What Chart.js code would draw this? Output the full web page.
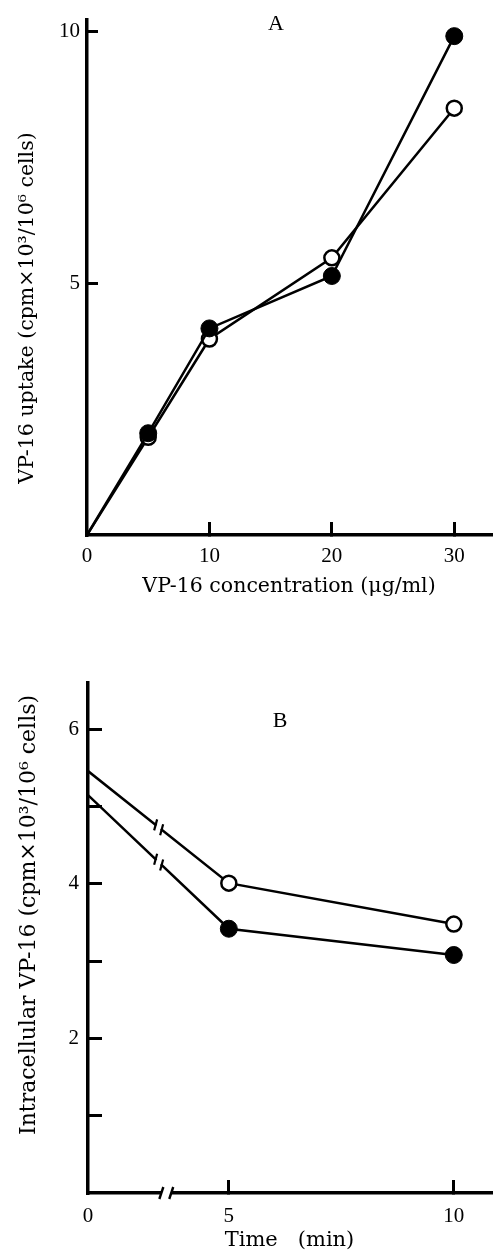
<!DOCTYPE html>
<html><head><meta charset="utf-8">
<script src="https://cdn.jsdelivr.net/npm/chart.js@4.4.1/dist/chart.umd.min.js"></script>
<style>
html,body{margin:0;padding:0;background:#fff;overflow:hidden;width:501px;height:1252px;}
#wa{position:absolute;left:0;top:0;width:501px;height:620px;}
#wb{position:absolute;left:0;top:620px;width:501px;height:640px;}
</style></head><body>
<div id="wa"><canvas id="ca"></canvas></div>
<div id="wb"><canvas id="cb"></canvas></div>
<script>
// ---------- Panel A data ----------
const concA        = [0, 5, 10, 20, 30];          // VP-16 concentration (ug/ml)
const uptakeFilled = [0, 2.02, 4.10, 5.14, 9.90]; // filled circles
const uptakeOpen   = [0, 1.94, 3.89, 5.50, 8.47]; // open circles
const xTicksA      = [0, 10, 20, 30];
const yTicksA      = [0, 5, 10];
// ---------- Panel B data ----------
const timeB        = [0, 5, 10];                  // Time (min)
const intraOpen    = [5.46, 4.01, 3.48];
const intraFilled  = [5.15, 3.42, 3.08];
const xTicksB      = [0, 5, 10];
const yTicksB      = [1, 2, 3, 4, 5, 6];
const yLabelsB     = [2, 4, 6];

// broken time axis: part of the 0..5 interval is cut out
const BREAK_FROM = 1.63, BREAK_TO = 3.72, BREAK_GAP = 0.22;
function toAxis(t){ return t <= BREAK_FROM ? t : t - (BREAK_TO - BREAK_FROM) + BREAK_GAP; }

const serif = "'Liberation Serif','Times New Roman',serif";
const titleSerif = "'DejaVu Serif',serif";
const BLACK = '#000';

const textPlugin = {
  id: 'panelText',
  afterDraw(chart, args, opts){
    const ctx = chart.ctx;
    (opts.items || []).forEach(it => {
      ctx.save();
      ctx.fillStyle = BLACK;
      ctx.font = it.font;
      ctx.textAlign = 'center';
      ctx.textBaseline = 'middle';
      ctx.translate(it.x, it.y);
      if (it.rot) ctx.rotate(it.rot);
      ctx.fillText(it.text, 0, 0);
      ctx.restore();
    });
  }
};

const breakPlugin = {
  id: 'axisBreak',
  afterDraw(chart, args, opts){
    if (!opts.enabled) return;
    const ctx = chart.ctx;
    const xs = chart.scales.x, ys = chart.scales.y;
    const ax1 = xs.getPixelForValue(BREAK_FROM), ax2 = xs.getPixelForValue(BREAK_FROM + BREAK_GAP);
    const yb = ys.getPixelForValue(0);
    ctx.save();
    // gap in the x axis
    ctx.fillStyle = '#fff';
    ctx.fillRect(ax1, yb - 3, ax2 - ax1, 6);
    ctx.strokeStyle = BLACK; ctx.lineWidth = 2.4;
    [ax1, ax2].forEach(x => {
      ctx.beginPath(); ctx.moveTo(x - 2, yb + 6); ctx.lineTo(x + 2, yb - 6); ctx.stroke();
    });
    // gaps in the data lines
    chart.data.datasets.forEach((ds, i) => {
      const meta = chart.getDatasetMeta(i);
      const p0 = meta.data[0], p1 = meta.data[1];
      const xc = xs.getPixelForValue(BREAK_FROM - 0.06);
      const slope = (p1.y - p0.y) / (p1.x - p0.x);
      const yAt = x => p0.y + slope * (x - p0.x);
      const g1 = xc - 3, g2 = xc + 3;
      ctx.strokeStyle = '#fff'; ctx.lineWidth = 5;
      ctx.beginPath(); ctx.moveTo(g1 + 0.8, yAt(g1 + 0.8)); ctx.lineTo(g2 - 0.8, yAt(g2 - 0.8)); ctx.stroke();
      ctx.strokeStyle = BLACK; ctx.lineWidth = 2.2;
      [g1, g2].forEach(x => {
        const y = yAt(x);
        ctx.beginPath(); ctx.moveTo(x - 1.5, y + 5.5); ctx.lineTo(x + 1.5, y - 5.5); ctx.stroke();
      });
    });
    ctx.restore();
  }
};
Chart.register(textPlugin, breakPlugin);

function lineDs(xs, ys, filled, first){
  return {
    data: xs.map((x, i) => ({x: x, y: ys[i]})),
    showLine: true,
    borderColor: BLACK, borderWidth: 2.5, tension: 0, fill: false,
    pointRadius: xs.map((x, i) => (i === 0 && first) ? 0 : (filled ? 8.5 : 7.5)),
    pointBackgroundColor: filled ? BLACK : '#fff',
    pointBorderColor: BLACK,
    pointBorderWidth: filled ? 1 : 2.5
  };
}
const tickCol = ctx => (ctx.tick && ctx.tick.value === 0) ? 'rgba(0,0,0,0)' : BLACK;
const noPad = s => { s.paddingTop = 0; s.paddingBottom = 0; s.paddingLeft = 0; s.paddingRight = 0; };

// ---------------- Chart A ----------------
new Chart(document.getElementById('ca'), {
  type: 'scatter',
  data: { datasets: [
    lineDs(concA, uptakeFilled, true, true),
    lineDs(concA, uptakeOpen, false, true)
  ]},
  options: {
    responsive: true, maintainAspectRatio: false, animation: false, events: [],
    devicePixelRatio: 1,
    layout: { padding: { top: 20, right: 4, left: 0, bottom: 0 } },
    plugins: {
      legend: {display: false}, tooltip: {enabled: false},
      panelText: { items: [
        {text: 'A', x: 276, y: 24, font: "22px " + serif},
        {text: 'VP-16 uptake (cpm\u00d710\u00b3/10\u2076 cells)', x: 28, y: 308, rot: -Math.PI/2, font: "20.5px " + titleSerif}
      ]},
      axisBreak: {enabled: false}
    },
    scales: {
      x: {
        type: 'linear', min: 0, max: 33,
        afterBuildTicks: s => { s.ticks = xTicksA.map(v => ({value: v})); },
        afterFit: s => { s.height = 85; noPad(s); },
        ticks: { font: {family: serif, size: 21}, color: BLACK, padding: 22, autoSkip: false, maxRotation: 0,
                 callback: v => String(v) },
        grid: { drawOnChartArea: false, drawTicks: true, tickLength: -13, lineWidth: 3, color: tickCol },
        border: { display: true, color: BLACK, width: 3.5 },
        title: { display: true, text: 'VP-16 concentration (\u03bcg/ml)', color: BLACK,
                 font: {family: titleSerif, size: 20.5}, padding: {top: 0, bottom: 21} }
      },
      y: {
        type: 'linear', min: 0, max: 10.22,
        afterBuildTicks: s => { s.ticks = yTicksA.map(v => ({value: v})); },
        afterFit: s => { s.width = 87; noPad(s); },
        ticks: { font: {family: serif, size: 21}, color: BLACK, padding: 18, autoSkip: false,
                 callback: v => v === 0 ? '' : String(v) },
        grid: { drawOnChartArea: false, drawTicks: true, tickLength: -11, lineWidth: 3, color: tickCol },
        border: { display: true, color: BLACK, width: 3.5 }
      }
    }
  }
});

// ---------------- Chart B ----------------
new Chart(document.getElementById('cb'), {
  type: 'scatter',
  data: { datasets: [
    lineDs(timeB.map(toAxis), intraFilled, true, true),
    lineDs(timeB.map(toAxis), intraOpen, false, true)
  ]},
  options: {
    responsive: true, maintainAspectRatio: false, animation: false, events: [],
    devicePixelRatio: 1,
    layout: { padding: { top: 63, right: 1, left: 0, bottom: 0 } },
    plugins: {
      legend: {display: false}, tooltip: {enabled: false},
      panelText: { items: [
        {text: 'B', x: 280, y: 101, font: "22px " + serif},
        {text: 'Intracellular VP-16 (cpm\u00d710\u00b3/10\u2076 cells)', x: 29, y: 295, rot: -Math.PI/2, font: "22px " + titleSerif}
      ]},
      axisBreak: {enabled: true}
    },
    scales: {
      x: {
        type: 'linear', min: 0, max: 8.957,
        afterBuildTicks: s => { s.ticks = xTicksB.map(t => ({value: toAxis(t)})); },
        afterFit: s => { s.height = 67; noPad(s); },
        ticks: { font: {family: serif, size: 21}, color: BLACK, padding: 24, autoSkip: false, maxRotation: 0,
                 callback: (v, i) => String(xTicksB[i]) },
        grid: { drawOnChartArea: false, drawTicks: true, tickLength: -13, lineWidth: 3, color: tickCol },
        border: { display: true, color: BLACK, width: 3.5 },
        title: { display: true, text: 'Time   (min)', color: BLACK,
                 font: {family: titleSerif, size: 21}, padding: {top: 0, bottom: 7} }
      },
      y: {
        type: 'linear', min: 0, max: 6.6,
        afterBuildTicks: s => { s.ticks = yTicksB.map(v => ({value: v})); },
        afterFit: s => { s.width = 88; noPad(s); },
        ticks: { font: {family: serif, size: 21}, color: BLACK, padding: 23, autoSkip: false,
                 callback: v => yLabelsB.includes(v) ? String(v) : '' },
        grid: { drawOnChartArea: false, drawTicks: true, tickLength: -14, lineWidth: 3, color: tickCol },
        border: { display: true, color: BLACK, width: 3.5 }
      }
    }
  }
});
</script>
</body></html>
